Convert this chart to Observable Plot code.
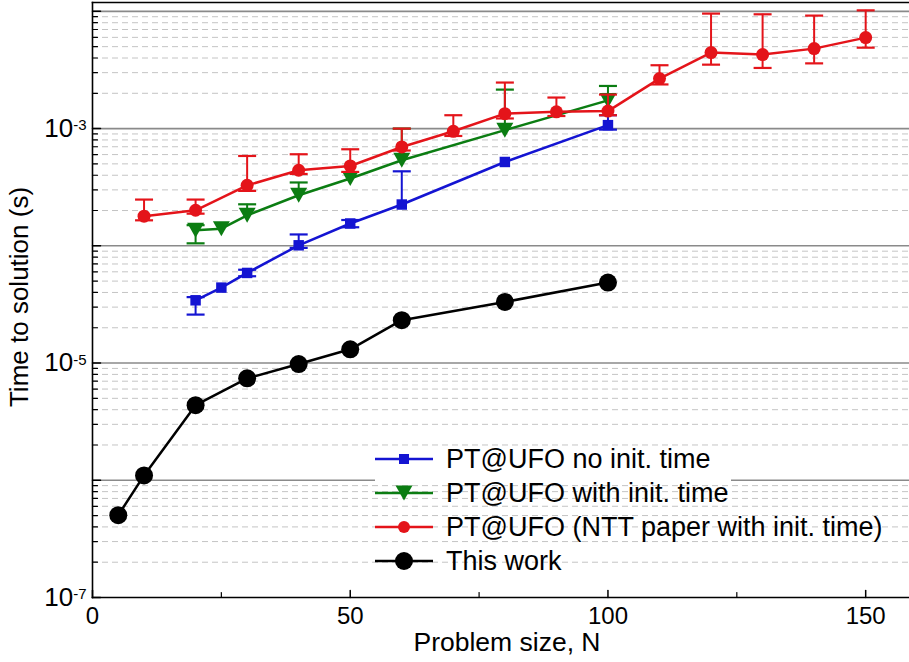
<!DOCTYPE html>
<html>
<head>
<meta charset="utf-8">
<script src="https://cdn.jsdelivr.net/npm/d3@7"></script>
<script src="https://cdn.jsdelivr.net/npm/@observablehq/plot@0.6"></script>
<style>
  html, body { margin: 0; padding: 0; background: #fff; }
  #wrap { position: relative; width: 909px; height: 662px; font-family: "Liberation Sans", Arial, sans-serif; }
  #legend { position: absolute; left: 373px; top: 442px; }
</style>
</head>
<body>
<div id="wrap"><div id="chart"></div><svg id="legend" width="536" height="140"></svg></div>
<script>
// ---- data ----
const blueN  = [20, 25, 30, 40, 50, 60, 80, 100];
const blueT  = [3.43e-5, 4.4e-5, 5.87e-5, 1.01e-4, 1.55e-4, 2.25e-4, 5.19e-4, 1.07e-3];
const blueLo = [2.59e-5, null, 5.5e-5, 9.6e-5, 1.44e-4, null, null, 0.98e-3];
const blueHi = [3.65e-5, null, 6.25e-5, 1.25e-4, 1.66e-4, 4.32e-4, null, 1.3e-3];

const greenN  = [20, 25, 30, 40, 50, 60, 80, 100];
const greenT  = [1.36e-4, 1.4e-4, 1.82e-4, 2.7e-4, 3.75e-4, 5.37e-4, 9.7e-4, 1.74e-3];
const greenLo = [1.05e-4, null, null, null, null, null, null, null];
const greenHi = [1.5e-4, null, 2.26e-4, 3.47e-4, null, 1.0e-3, 2.15e-3, 2.31e-3];

const redN  = [10, 20, 30, 40, 50, 60, 70, 80, 90, 100, 110, 120, 130, 140, 150];
const redT  = [1.79e-4, 2.01e-4, 3.28e-4, 4.41e-4, 4.8e-4, 6.97e-4, 9.48e-4, 1.34e-3, 1.39e-3, 1.41e-3, 2.67e-3, 4.45e-3, 4.28e-3, 4.81e-3, 5.97e-3];
const redLo = [1.65e-4, 1.88e-4, 2.94e-4, 4.1e-4, 4.27e-4, 6.5e-4, 8.65e-4, 1.22e-3, 1.28e-3, 1.3e-3, 2.38e-3, 3.51e-3, 3.29e-3, 3.6e-3, 4.9e-3];
const redHi = [2.48e-4, 2.48e-4, 5.84e-4, 6.04e-4, 6.66e-4, 1.0e-3, 1.3e-3, 2.47e-3, 1.84e-3, 1.95e-3, 3.47e-3, 9.57e-3, 9.44e-3, 9.2e-3, 1.02e-2];

const blackN = [5, 10, 20, 30, 40, 50, 60, 80, 100];
const blackT = [5.04e-7, 1.1e-6, 4.37e-6, 7.4e-6, 9.8e-6, 1.31e-5, 2.32e-5, 3.32e-5, 4.86e-5];

const seriesNames = ["PT@UFO no init. time", "PT@UFO with init. time", "PT@UFO (NTT paper with init. time)", "This work"];
const xTickValues = [0, 50, 100, 150];
const xMinorTicks = [25, 75, 125];
const yLabelExp = [-7, -5, -3];
const yDecadeExp = [-7, -6, -5, -4, -3, -2];

// ---- helpers ----
const toRows = (N, T, Lo, Hi) => N.map((n, i) => ({N: n, t: T[i], lo: Lo ? Lo[i] : null, hi: Hi ? Hi[i] : null}));
const blue = toRows(blueN, blueT, blueLo, blueHi);
const green = toRows(greenN, greenT, greenLo, greenHi);
const red = toRows(redN, redT, redLo, redHi);
const black = toRows(blackN, blackT);

const decades = yDecadeExp.map(e => Math.pow(10, e));
const minorY = [];
yDecadeExp.slice(0, -1).forEach(e => { for (let m = 2; m <= 9; m++) minorY.push(m * Math.pow(10, e)); });

const C = {blue: "#1414d2", green: "#0b7d12", red: "#e4141a", black: "#000000"};

const tickShape = {draw(ctx, l) { ctx.moveTo(0, 0); ctx.lineTo(0, -l); }};
const capSymbol = {draw(ctx) { ctx.moveTo(-9, 0); ctx.lineTo(9, 0); }};
const downTri = {draw(ctx) { ctx.moveTo(-8.5, -7.5); ctx.lineTo(8.5, -7.5); ctx.lineTo(0, 7.5); ctx.closePath(); }};

function errMarks(rows, color) {
  const up = rows.filter(d => d.hi != null);
  const dn = rows.filter(d => d.lo != null);
  return [
    Plot.ruleX(up, {x: "N", y1: "t", y2: "hi", stroke: color, strokeWidth: 2}),
    Plot.ruleX(dn, {x: "N", y1: "lo", y2: "t", stroke: color, strokeWidth: 2}),
    Plot.dot(up, {x: "N", y: "hi", symbol: capSymbol, stroke: color, fill: "none", strokeWidth: 2.2}),
    Plot.dot(dn, {x: "N", y: "lo", symbol: capSymbol, stroke: color, fill: "none", strokeWidth: 2.2})
  ];
}

const FONT = "'Liberation Sans', Arial, sans-serif";

const chart = Plot.plot({
  width: 909,
  height: 662,
  marginLeft: 92,
  marginRight: 0,
  marginTop: 2,
  marginBottom: 65,
  style: {fontFamily: FONT, background: "white", color: "black"},
  x: {domain: [0, 158.5]},
  y: {type: "log", domain: [1e-7, 1.19e-2], axis: null},
  marks: [
    Plot.ruleY(minorY, {stroke: "#c4c4c4", strokeWidth: 1, strokeDasharray: "6,4"}),
    Plot.ruleY(decades.slice(1), {stroke: "#8a8a8a", strokeWidth: 1.6}),
    Plot.frame({anchor: "left", stroke: "black", strokeWidth: 1.6}),
    Plot.frame({anchor: "bottom", stroke: "black", strokeWidth: 1.6}),
    Plot.frame({anchor: "top", stroke: "black", strokeWidth: 1.6}),
    // inward ticks
    Plot.vector(decades, {y: d => d, frameAnchor: "left", rotate: 90, length: 8, anchor: "start", shape: tickShape, stroke: "black", strokeWidth: 1.5}),
    Plot.vector(minorY, {y: d => d, frameAnchor: "left", rotate: 90, length: 5, anchor: "start", shape: tickShape, stroke: "black", strokeWidth: 1.2}),
    Plot.vector(xTickValues, {x: d => d, frameAnchor: "bottom", rotate: 0, length: 7, anchor: "start", shape: tickShape, stroke: "black", strokeWidth: 1.5}),
    Plot.vector(xMinorTicks, {x: d => d, frameAnchor: "bottom", rotate: 0, length: 5, anchor: "start", shape: tickShape, stroke: "black", strokeWidth: 1.2}),
    // axes labels
    Plot.axisX({ticks: xTickValues, tickSize: 0, tickPadding: 9, fontSize: 24, label: null}),
    Plot.text(yLabelExp, {y: d => Math.pow(10, d), frameAnchor: "left", text: d => "10|" + d, textAnchor: "end", lineAnchor: "middle", dx: -6, fontSize: 26}),
    Plot.text(["Problem size, N"], {frameAnchor: "bottom", textAnchor: "middle", lineAnchor: "middle", dy: 45, dx: 6, fontSize: 26.5}),
    Plot.text(["Time to solution (s)"], {frameAnchor: "left", textAnchor: "middle", lineAnchor: "middle", rotate: -90, dx: -73, dy: -3, fontSize: 26}),
    // blue
    Plot.line(blue, {x: "N", y: "t", stroke: C.blue, strokeWidth: 2.5}),
    ...errMarks(blue, C.blue),
    Plot.dot(blue, {x: "N", y: "t", symbol: "square", r: 5.9, fill: C.blue}),
    // green
    Plot.line(green, {x: "N", y: "t", stroke: C.green, strokeWidth: 2.5}),
    ...errMarks(green, C.green),
    Plot.dot(green, {x: "N", y: "t", symbol: downTri, fill: C.green}),
    // red
    Plot.line(red, {x: "N", y: "t", stroke: C.red, strokeWidth: 2.5}),
    ...errMarks(red, C.red),
    Plot.dot(red, {x: "N", y: "t", r: 6.5, fill: C.red}),
    // black
    Plot.line(black, {x: "N", y: "t", stroke: C.black, strokeWidth: 2.5}),
    Plot.dot(black, {x: "N", y: "t", r: 9, fill: C.black})
  ]
});
document.getElementById("chart").appendChild(chart);

// superscript tick labels
d3.select(chart).selectAll("text").filter(function() { return this.textContent.includes("|"); }).each(function() {
  const parts = this.textContent.split("|");
  const t = d3.select(this);
  t.attr("font-size", 26).style("font-size", "26px");
  t.text(null);
  t.append("tspan").attr("font-size", 26).style("font-size", "26px").text(parts[0]);
  t.append("tspan").attr("dy", "-0.45em").attr("font-size", 15).style("font-size", "15px").text(parts[1]);
});

// legend
const lg = d3.select("#legend").style("font-family", FONT);
// legend background strip hiding the major gridline behind the legend entries
lg.append("rect").attr("x", 2).attr("y", 35.5).attr("width", 356).attr("height", 5.5).attr("fill", "white");
const legendColors = [C.blue, C.green, C.red, C.black];
const symbolFns = [
  g => g.append("rect").attr("x", -5).attr("y", -5).attr("width", 10).attr("height", 10).attr("fill", C.blue),
  g => g.append("path").attr("d", "M-8.5,-7.5L8.5,-7.5L0,7.5Z").attr("fill", C.green),
  g => g.append("circle").attr("r", 6).attr("fill", C.red),
  g => g.append("circle").attr("r", 9).attr("fill", C.black)
];
seriesNames.forEach((name, i) => {
  const yy = 17 + i * 34;
  const g = lg.append("g").attr("transform", `translate(0,${yy})`);
  g.append("line").attr("x1", 2).attr("x2", 60).attr("stroke", legendColors[i]).attr("stroke-width", 2.5);
  symbolFns[i](g.append("g").attr("transform", "translate(31,0)"));
  g.append("text").attr("x", 73).attr("dy", "0.35em").attr("font-size", 27).attr("fill", "black").text(name);
});
</script>
</body>
</html>
